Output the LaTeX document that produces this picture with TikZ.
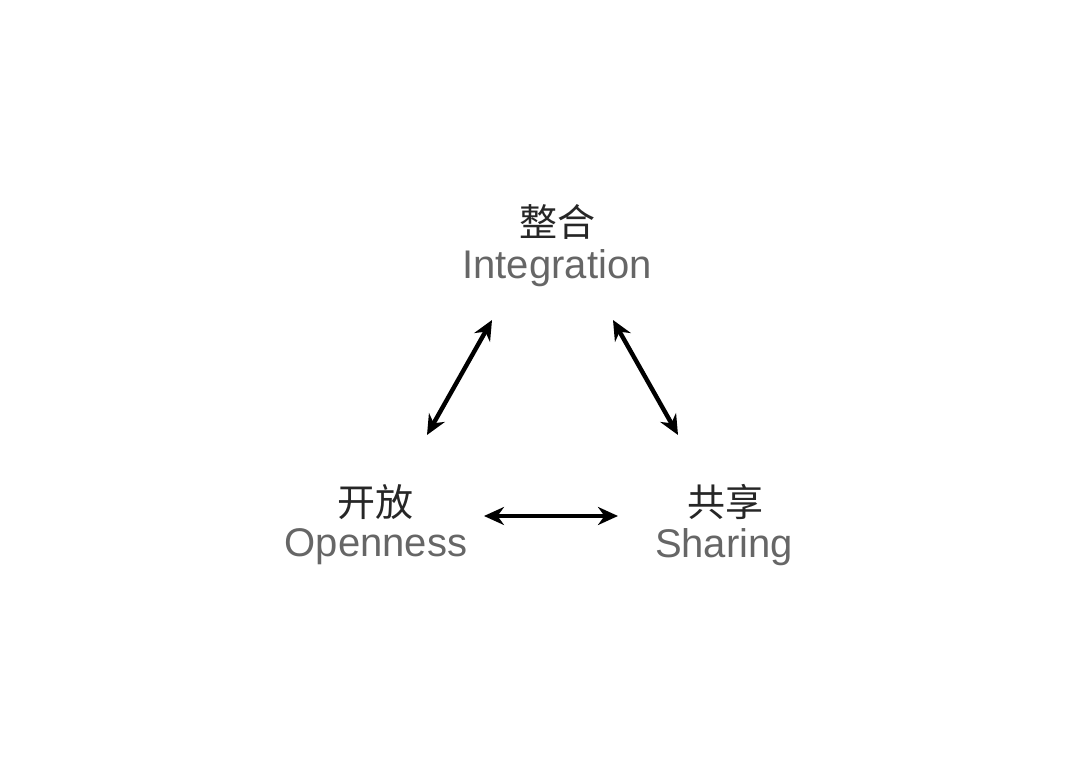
\documentclass[tikz,border=0pt]{standalone}
\usepackage{fontspec}
\setmainfont{Liberation Sans}
\newfontfamily\cjk{Noto Sans CJK SC}
\usetikzlibrary{arrows.meta}
\tikzstyle{TituloZh}=[font=\cjk\fontsize{19}{22}\selectfont, text=black!85, inner sep=0pt]
\tikzstyle{TituloEn}=[font=\fontsize{20}{24}\selectfont, text=black!60, inner sep=0pt]
\tikzstyle{Flecha}=[{Stealth[length=10pt,width=9pt]}-{Stealth[length=10pt,width=9pt]}, line width=2.2pt]

\begin{document}
\begin{tikzpicture}[x=0.5pt,y=-0.5pt]
			\useasboundingbox (0,0) rectangle (1080,763);
			%Nodos
			\node[TituloZh]	(integ_zh)	at (557,222)	{整合};
			\node[TituloEn]	(integ_en)	at (557,268)	{Integration};

			\node[TituloZh]	(open_zh)	at (375,502)	{开放};
			\node[TituloEn]	(open_en)	at (376,547)	{Openness};

			\node[TituloZh]	(share_zh)	at (725,502)	{共享};
			\node[TituloEn]	(share_en)	at (724,547)	{Sharing};

			%Extremos
			\coordinate (l_a) at (427,435);
			\coordinate (l_b) at (492,320);
			\coordinate (r_a) at (613,320);
			\coordinate (r_b) at (678,435);
			\coordinate (h_a) at (484,516);
			\coordinate (h_b) at (618,516);

			%Lineas
			\draw[Flecha] (l_a) -- (l_b);
			\draw[Flecha] (r_a) -- (r_b);
			\draw[Flecha] (h_a) -- (h_b);
		\end{tikzpicture}
\end{document}
